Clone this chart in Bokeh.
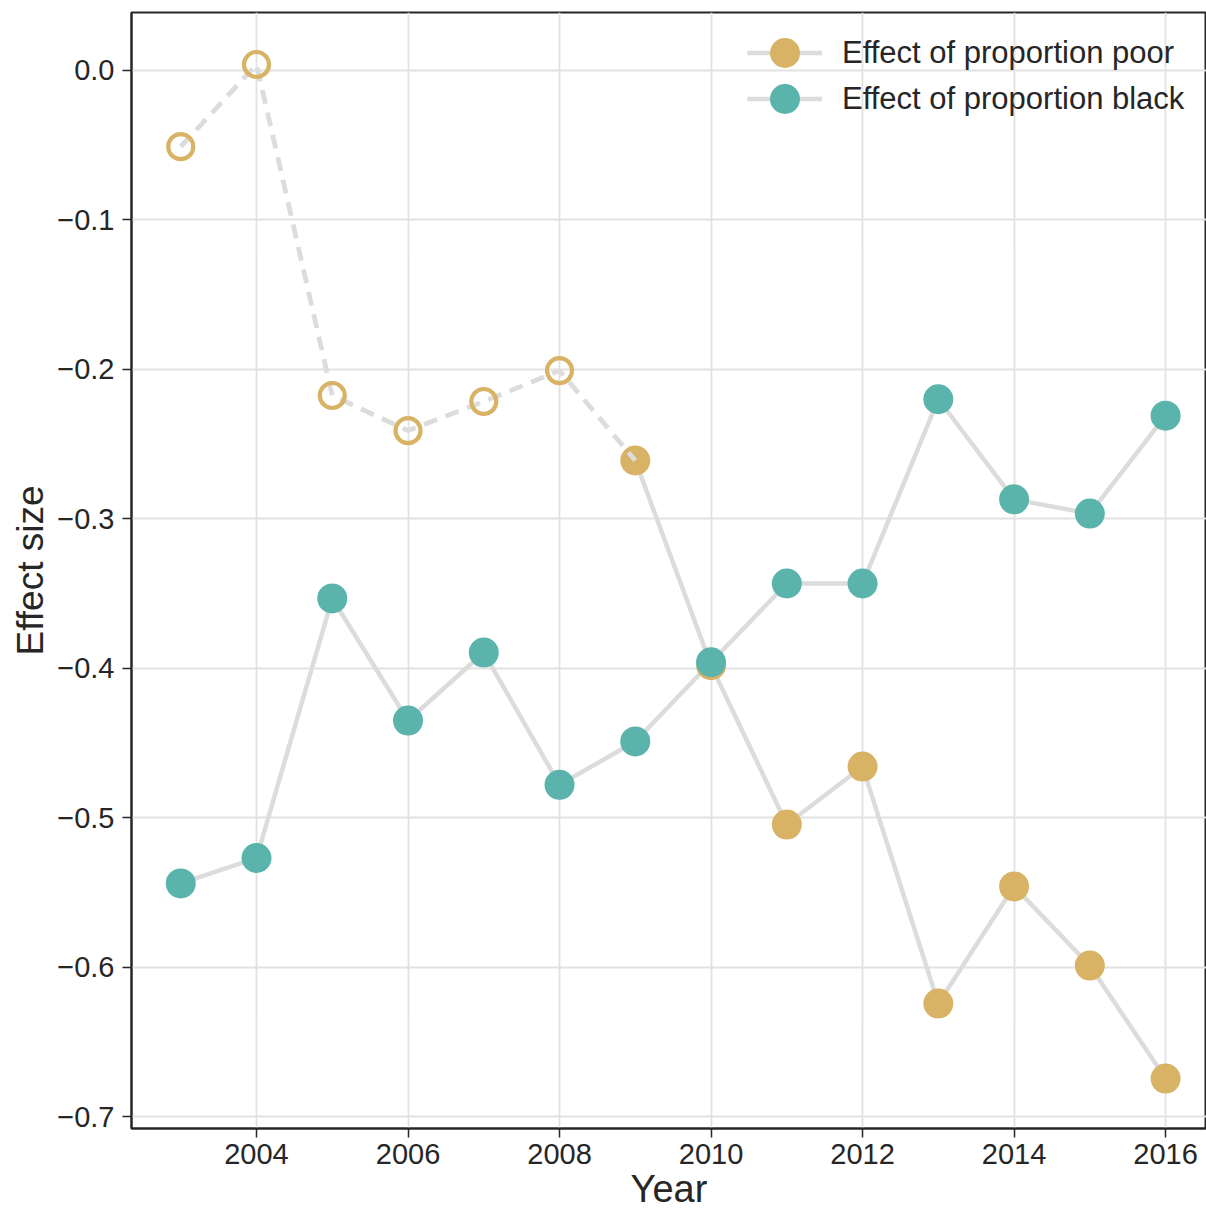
from bokeh.plotting import figure
from bokeh.models import ColumnDataSource, Legend, LegendItem, CustomJSTickFormatter, FixedTicker, Range1d
from bokeh.embed import file_html
from bokeh.resources import INLINE

years = [2003, 2004, 2005, 2006, 2007, 2008, 2009, 2010, 2011, 2012, 2013, 2014, 2015, 2016]
poor = [-0.051, 0.004, -0.2175, -0.241, -0.2215, -0.2008, -0.261, -0.398, -0.5046, -0.4658, -0.6244, -0.546, -0.599, -0.6746]
black = [-0.544, -0.527, -0.3533, -0.435, -0.3895, -0.478, -0.449, -0.396, -0.3433, -0.3433, -0.220, -0.287, -0.2965, -0.231]
# poor effect is shown hollow (not significant) for 2003-2008
poor_significant = [False, False, False, False, False, False, True, True, True, True, True, True, True, True]
x_ticks = [2004, 2006, 2008, 2010, 2012, 2014, 2016]
y_ticks = [0.0, -0.1, -0.2, -0.3, -0.4, -0.5, -0.6, -0.7]
labels = ["Effect of proportion poor", "Effect of proportion black"]

GOLD = "#D8B365"
TEAL = "#5AB4AC"
LINE = "#dcdcdc"
TXT = "#262626"
FONT = "Liberation Sans"

p = figure(width=1206, height=1212, output_backend="svg", toolbar_location=None,
           x_range=Range1d(2002.35, 2016.54), y_range=Range1d(-0.708, 0.0388),
           min_border_left=131, min_border_top=12, min_border_bottom=84, min_border_right=0)
p.background_fill_color = "white"
p.border_fill_color = "white"
p.outline_line_color = TXT
p.outline_line_width = 2

first_sig = poor_significant.index(True)
dash_src = ColumnDataSource(dict(x=years[:first_sig + 1], y=poor[:first_sig + 1]))
solid_src = ColumnDataSource(dict(x=years[first_sig:], y=poor[first_sig:]))
hollow_src = ColumnDataSource(dict(x=[y for y, s in zip(years, poor_significant) if not s],
                                   y=[v for v, s in zip(poor, poor_significant) if not s]))
filled_src = ColumnDataSource(dict(x=[y for y, s in zip(years, poor_significant) if s],
                                   y=[v for v, s in zip(poor, poor_significant) if s]))
black_src = ColumnDataSource(dict(x=years, y=black))

poor_line = p.line("x", "y", source=solid_src, line_color=LINE, line_width=4.5)
black_line = p.line("x", "y", source=black_src, line_color=LINE, line_width=4.5)
poor_pts = p.scatter("x", "y", source=filled_src, size=30, fill_color=GOLD, line_color=None)
black_pts = p.scatter("x", "y", source=black_src, size=30, fill_color=TEAL, line_color=None)
p.line("x", "y", source=dash_src, line_color=LINE, line_width=4.8, line_dash="14 9")
p.scatter("x", "y", source=hollow_src, size=25, fill_color=None, line_color=GOLD, line_width=4.2)

p.xaxis.ticker = FixedTicker(ticks=x_ticks)
p.yaxis.ticker = FixedTicker(ticks=y_ticks)
p.yaxis.formatter = CustomJSTickFormatter(code="""
    if (Math.abs(tick) < 1e-9) { return '0.0'; }
    return (tick < 0 ? '\u2212' : '') + Math.abs(tick).toFixed(1);
""")
for ax in (p.xaxis, p.yaxis):
    ax.axis_line_color = TXT
    ax.axis_line_width = 2
    ax.major_tick_line_color = TXT
    ax.major_tick_line_width = 1.5
    ax.major_tick_out = 9
    ax.major_tick_in = 0
    ax.minor_tick_line_color = None
    ax.major_label_text_font = FONT
    ax.major_label_text_font_size = "29px"
    ax.major_label_text_color = TXT
    ax.axis_label_text_font = FONT
    ax.axis_label_text_font_style = "normal"
    ax.axis_label_text_color = TXT
p.xaxis.axis_label = "Year"
p.yaxis.axis_label = "Effect size"
p.xaxis.axis_label_text_font_size = "38px"
p.yaxis.axis_label_text_font_size = "37px"
p.xaxis.major_label_standoff = 6
p.yaxis.major_label_standoff = 8
p.xaxis.axis_label_standoff = 1
p.yaxis.axis_label_standoff = 3

p.xgrid.grid_line_color = "#e2e2e2"
p.ygrid.grid_line_color = "#e2e2e2"
p.xgrid.grid_line_width = 1.8
p.ygrid.grid_line_width = 1.8

def make_legend(label, rends, loc):
    lg = Legend(items=[LegendItem(label=label, renderers=rends)], location=loc)
    lg.glyph_width = 75
    lg.glyph_height = 75
    lg.padding = 0
    lg.margin = 0
    lg.spacing = 0
    lg.label_standoff = 20
    lg.label_text_font = FONT
    lg.label_text_font_size = "31px"
    lg.label_text_color = TXT
    lg.border_line_color = None
    lg.background_fill_alpha = 0
    return lg

p.add_layout(make_legend(labels[0], [poor_line, poor_pts], (616, 1038)))
p.add_layout(make_legend(labels[1], [black_line, black_pts], (616, 992)))

open("out.html", "w").write(file_html(p, INLINE))
